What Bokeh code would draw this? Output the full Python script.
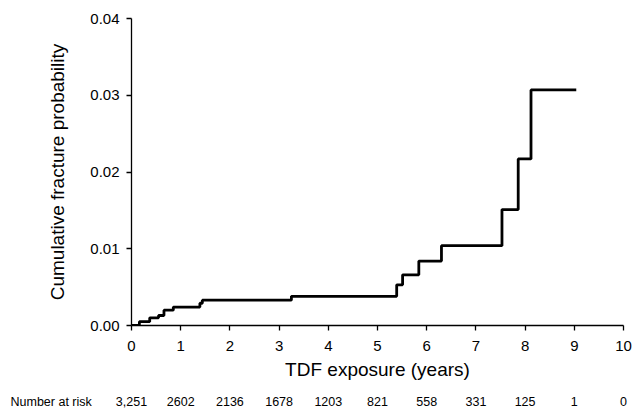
from bokeh.plotting import figure
from bokeh.layouts import column
from bokeh.models import Range1d, FixedTicker, NumeralTickFormatter
from bokeh.embed import file_html
from bokeh.resources import INLINE
from bokeh.core.properties import value

# ---- data ----
times = [0, 0.16, 0.37, 0.55, 0.66, 0.85, 1.39, 1.44, 3.25, 5.39, 5.51, 5.84, 6.30, 7.53, 7.86, 8.12, 9.04]
cum_prob = [0, 0.0005, 0.0010, 0.0013, 0.0020, 0.0024, 0.0029, 0.0033, 0.0038, 0.0053, 0.0066,
            0.0084, 0.0104, 0.0151, 0.0217, 0.0307, 0.0307]
risk_years = [0, 1, 2, 3, 4, 5, 6, 7, 8, 9, 10]
risk_counts = ["3,251", "2602", "2136", "1678", "1203", "821", "558", "331", "125", "1", "0"]
x_ticks = [0, 1, 2, 3, 4, 5, 6, 7, 8, 9, 10]
y_ticks = [0, 0.01, 0.02, 0.03, 0.04]

FONT = "Liberation Sans"
W = 632
LEFT = 131
RIGHT = 9
TOP = 18
MAIN_H = 382
BOTTOM = 56
TABLE_H = 27

p = figure(width=W, height=MAIN_H, x_range=Range1d(0, 10), y_range=Range1d(0, 0.04),
           output_backend="svg", toolbar_location=None,
           min_border_left=LEFT, min_border_right=RIGHT, min_border_top=TOP,
           min_border_bottom=BOTTOM)
p.frame_align = False
p.step(times, cum_prob, mode="after", line_width=2.8, line_color="black")

p.xgrid.grid_line_color = None
p.ygrid.grid_line_color = None
p.outline_line_color = None

p.xaxis.ticker = FixedTicker(ticks=x_ticks)
p.yaxis.ticker = FixedTicker(ticks=y_ticks)
p.yaxis.formatter = NumeralTickFormatter(format="0.00")
p.xaxis.axis_label = "TDF exposure (years)"
p.yaxis.axis_label = "Cumulative fracture probability"

for ax in (p.xaxis[0], p.yaxis[0]):
    ax.axis_line_color = "black"
    ax.axis_line_width = 1.3
    ax.major_tick_line_color = "black"
    ax.major_tick_line_width = 1.3
    ax.major_tick_in = 0
    ax.major_tick_out = 5
    ax.minor_tick_in = 0
    ax.minor_tick_out = 0
    ax.major_label_text_font = FONT
    ax.major_label_text_font_size = "15px"
    ax.major_label_text_color = "black"
    ax.axis_label_text_font = FONT
    ax.axis_label_text_font_size = "19px"
    ax.axis_label_text_font_style = "normal"
    ax.axis_label_text_color = "black"

p.xaxis.major_label_standoff = 10
p.xaxis.axis_label_standoff = 5
p.yaxis.major_label_standoff = 7
p.yaxis.axis_label_standoff = 19

# ---- number-at-risk row (own figure, same horizontal pixel scale) ----
px_per = (W - LEFT - RIGHT) / 10.0
x0 = -LEFT / px_per
x1 = (W - LEFT) / px_per
t = figure(width=W, height=TABLE_H, x_range=Range1d(x0, x1), y_range=Range1d(0, TABLE_H),
           x_axis_type=None, y_axis_type=None, output_backend="svg", toolbar_location=None,
           min_border_left=0, min_border_right=0, min_border_top=0, min_border_bottom=0)
t.frame_align = False
t.outline_line_color = None
t.xgrid.grid_line_color = None
t.ygrid.grid_line_color = None
row_y = TABLE_H - 19
t.text(x=risk_years, y=[row_y] * len(risk_years), text=risk_counts, text_align="center",
       text_baseline="middle", text_font=value(FONT), text_font_size="12.5px", text_color="black")
t.text(x=[x0 + 10 / px_per], y=[row_y], text=["Number at risk"], text_align="left",
       text_baseline="middle", text_font=value(FONT), text_font_size="12.5px", text_color="black")

layout = column(p, t, spacing=0)
open("out.html", "w").write(file_html(layout, INLINE))
